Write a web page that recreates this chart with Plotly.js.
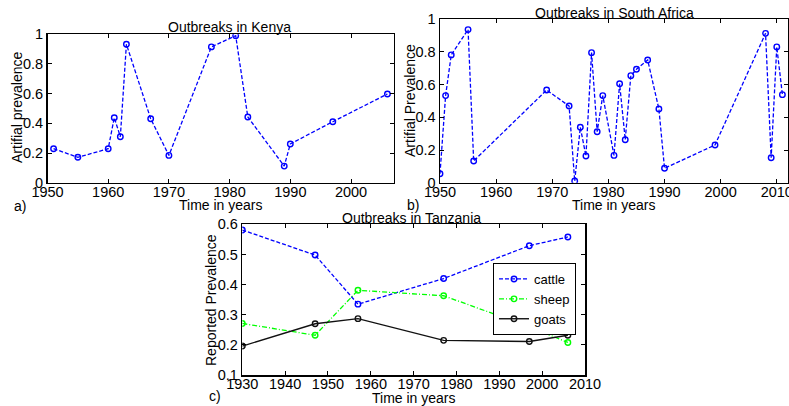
<!DOCTYPE html>
<html>
<head>
<meta charset="utf-8">
<script src="https://cdn.plot.ly/plotly-3.0.1.min.js"></script>
<style>
  html, body { margin: 0; padding: 0; background: #fff; overflow: hidden; }
  #chart { width: 789px; height: 406px; }
</style>
</head>
<body>
<div id="chart"></div>
<script>
// Outbreak prevalence series for three countries
const kenyaYears = [1951, 1955, 1960, 1961, 1962, 1963, 1967, 1970, 1977, 1981, 1983, 1989, 1990, 1997, 2006];
const kenyaPrev  = [0.229, 0.171, 0.229, 0.438, 0.310, 0.933, 0.431, 0.184, 0.915, 0.991, 0.443, 0.112, 0.261, 0.411, 0.598];

const saYears = [1950, 1951, 1952, 1955, 1956, 1969, 1973, 1974, 1975, 1976, 1977, 1978, 1979,
                 1981, 1982, 1983, 1984, 1985, 1987, 1989, 1990, 1999, 2008, 2009, 2010, 2011];
const saPrev  = [0.055, 0.533, 0.782, 0.937, 0.133, 0.567, 0.469, 0.010, 0.339, 0.163, 0.796, 0.312, 0.533,
                 0.167, 0.606, 0.263, 0.655, 0.694, 0.751, 0.451, 0.088, 0.231, 0.914, 0.153, 0.831, 0.539];

const tzYears  = [1930, 1947, 1957, 1977, 1997, 2006];
const tzCattle = [0.581, 0.498, 0.335, 0.420, 0.529, 0.558];
const tzSheep  = [0.271, 0.232, 0.381, 0.363, 0.260, 0.208];
const tzGoats  = [0.196, 0.270, 0.287, 0.215, 0.211, 0.232];

const seriesNames = ['cattle', 'sheep', 'goats'];

const W = 789, H = 406;
const FONT = '"Liberation Sans", Arial, sans-serif';
const TICK = 14.5;
const TXT = 14;

// pixel box -> paper domain helpers
const dx = (l, r) => [l / W, r / W];
const dy = (t, b) => [1 - b / H, 1 - t / H];

const BLUE = '#0000ff', GREEN = '#00ff00';
const dashed = '4px,2px';
const dashDot = '5px,2px,1px,2px';

function marks(x, y, color, dash, xa, ya, name, showlegend, lw) {
  return {
    x: x, y: y, type: 'scatter', mode: 'lines+markers',
    xaxis: xa, yaxis: ya, name: name, showlegend: showlegend,
    line: { color: color, width: lw || 1.3, dash: dash },
    marker: { symbol: 'circle-open', size: 5.5, color: color, line: { color: color, width: 1.4 } }
  };
}

const traces = [
  marks(kenyaYears, kenyaPrev, BLUE, dashed, 'x', 'y', 'Kenya', false),
  marks(saYears, saPrev, BLUE, dashed, 'x2', 'y2', 'South Africa', false),
  marks(tzYears, tzCattle, BLUE, dashed, 'x3', 'y3', seriesNames[0], true),
  marks(tzYears, tzSheep, GREEN, dashDot, 'x3', 'y3', seriesNames[1], true),
  marks(tzYears, tzGoats, '#111111', 'solid', 'x3', 'y3', seriesNames[2], true, 1.4)
];

function axis(extra) {
  return Object.assign({
    showline: true, linecolor: '#000', linewidth: 1.5, mirror: 'ticks',
    ticks: 'inside', ticklen: 4, tickwidth: 1, tickcolor: '#000',
    showgrid: false, zeroline: false, fixedrange: true,
    ticklabeloverflow: 'allow',
    tickfont: { family: FONT, size: TICK, color: '#000' }
  }, extra);
}

function label(text, px, py, rot) {
  return {
    text: text, xref: 'paper', yref: 'paper', x: px / W, y: 1 - py / H,
    xanchor: 'center', yanchor: 'middle', showarrow: false, textangle: rot || 0,
    font: { family: FONT, size: TXT, color: '#000' }
  };
}

const layout = {
  width: W, height: H,
  margin: { l: 0, r: 0, t: 0, b: 0 },
  paper_bgcolor: '#fff', plot_bgcolor: '#fff',
  font: { family: FONT, size: TXT, color: '#000' },
  showlegend: true,
  hovermode: false,
  xaxis:  axis({ domain: dx(47.5, 393.5), range: [1950, 2007], tick0: 1950, dtick: 10, anchor: 'y', ticklabelstandoff: -5 }),
  yaxis:  axis({ domain: dy(34.3, 182.7), range: [0, 1], tick0: 0, dtick: 0.2, anchor: 'x' }),
  xaxis2: axis({ domain: dx(440, 788), range: [1950, 2012], tick0: 1950, dtick: 10, anchor: 'y2', ticklabelstandoff: -5 }),
  yaxis2: axis({ domain: dy(19.3, 182.7), range: [0, 1], tick0: 0, dtick: 0.2, anchor: 'x2' }),
  xaxis3: axis({ domain: dx(242.3, 585), range: [1930, 2010], tick0: 1930, dtick: 10, anchor: 'y3', ticklabelstandoff: -5 }),
  yaxis3: axis({ domain: dy(224.3, 375), range: [0.1, 0.6], tick0: 0, dtick: 0.1, anchor: 'x3' }),
  legend: {
    x: 576 / W, xanchor: 'right', y: 1 - 263 / H, yanchor: 'top',
    bgcolor: '#fff', bordercolor: '#000', borderwidth: 1,
    font: { family: FONT, size: 13, color: '#000' },
    itemwidth: 30, tracegroupgap: 0
  },
  annotations: [
    label('Outbreaks in Kenya', 229, 26.7),
    label('Outbreaks in South Africa', 614, 12.7),
    label('Outbreaks in Tanzania', 412, 218),
    label('Time in years', 221, 205),
    label('Time in years', 614, 205),
    label('Time in years', 413.5, 398),
    label('Artifial prevalence', 17, 108, -90),
    label('Artifial Prevalence', 410, 101, -90),
    label('Reported Prevalence', 211, 300, -90),
    label('a)', 19.5, 206),
    label('b)', 413, 205),
    label('c)', 215, 396)
  ]
};

Plotly.newPlot('chart', traces, layout, { staticPlot: true, displayModeBar: false });
</script>
</body>
</html>
